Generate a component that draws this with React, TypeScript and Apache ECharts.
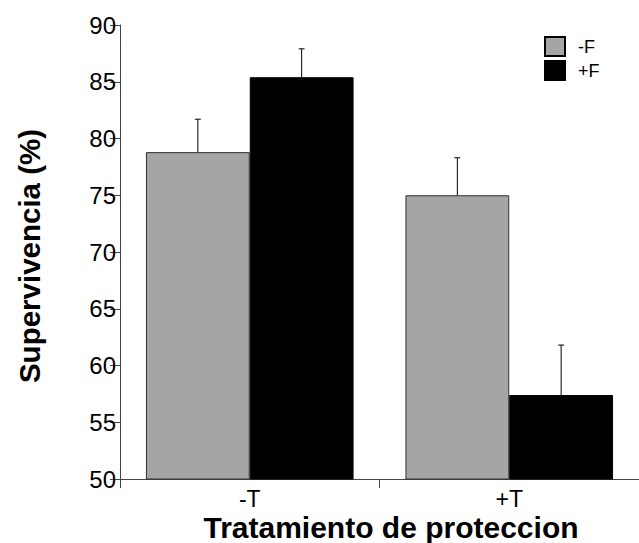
import React, { useEffect, useRef } from "react";
import * as echarts from "echarts";

const categories = ["-T", "+T"];
const seriesNames = ["-F", "+F"];
const minusF = [78.8, 75.0];
const plusF = [85.4, 57.4];
const minusFErr = [2.9, 3.3];
const plusFErr = [2.5, 4.4];
const yTicks = { min: 50, max: 90, interval: 5 };

const FONT = "'Liberation Sans', Arial, Helvetica, sans-serif";

export default function App() {
  const ref = useRef<HTMLDivElement>(null);
  useEffect(() => {
    if (!ref.current) return;
    const chart = echarts.init(ref.current, undefined, { renderer: "svg" });
    const errSeries = (vals: number[], errs: number[], side: number, name: string) => ({
      type: "custom",
      name: name + " err",
      silent: true,
      z: 5,
      data: vals.map((v, i) => [i, v, v + errs[i]]),
      renderItem: (params: any, api: any) => {
        const i = api.value(0);
        const base = api.coord([i, api.value(1)]);
        const top = api.coord([i, api.value(2)]);
        const band = api.size([1, 0])[0];
        const x = base[0] + side * band * 0.2;
        return {
          type: "group",
          children: [
            { type: "line", shape: { x1: x, y1: base[1], x2: x, y2: top[1] }, style: { stroke: "#000", lineWidth: 1 } },
            { type: "line", shape: { x1: x - 3, y1: top[1], x2: x + 3, y2: top[1] }, style: { stroke: "#000", lineWidth: 1 } },
          ],
        };
      },
    });
    chart.setOption({
      animation: false,
      textStyle: { fontFamily: FONT },
      grid: { left: 120, top: 25, width: 526, height: 454, containLabel: false },
      legend: {
        orient: "vertical",
        left: 539,
        top: 31,
        itemWidth: 20,
        itemHeight: 19,
        itemGap: 3,
        icon: "rect",
        textStyle: { fontSize: 18, color: "#000", fontFamily: FONT, padding: [0, 0, 0, 8] },
        data: [
          { name: "-F", itemStyle: { color: "#a5a5a5", borderColor: "#000", borderWidth: 2 } },
          { name: "+F", itemStyle: { color: "#000" } },
        ],
      },
      xAxis: {
        type: "category",
        data: categories,
        axisLine: { lineStyle: { color: "#444", width: 1 } },
        axisTick: { show: true, length: 9, lineStyle: { color: "#444" } },
        axisLabel: { fontSize: 23, color: "#000", margin: 8, lineHeight: 23, fontFamily: FONT },
      },
      yAxis: {
        type: "value",
        min: yTicks.min,
        max: yTicks.max,
        interval: yTicks.interval,
        splitLine: { show: false },
        axisLine: { show: true, lineStyle: { color: "#444", width: 1 } },
        axisTick: { show: true, length: 10, lineStyle: { color: "#444" } },
        axisLabel: { fontSize: 24, color: "#000", margin: 4, fontFamily: FONT },
      },
      graphic: [
        {
          type: "text",
          x: 391,
          y: 527,
          style: {
            text: "Tratamiento de proteccion",
            fontSize: 30,
            fontWeight: "bold",
            fontFamily: FONT,
            fill: "#000",
            align: "center",
            verticalAlign: "middle",
          },
        },
        {
          type: "text",
          x: 29,
          y: 256,
          rotation: Math.PI / 2,
          style: {
            text: "Supervivencia (%)",
            fontSize: 29.5,
            fontWeight: "bold",
            fontFamily: FONT,
            fill: "#000",
            align: "center",
            verticalAlign: "middle",
          },
        },
      ],
      series: [
        {
          name: seriesNames[0],
          type: "bar",
          data: minusF,
          barGap: "0%",
          barCategoryGap: "20%",
          itemStyle: { color: "#a5a5a5", borderColor: "#333", borderWidth: 1 },
        },
        {
          name: seriesNames[1],
          type: "bar",
          data: plusF,
          barGap: "0%",
          barCategoryGap: "20%",
          itemStyle: { color: "#000", borderColor: "#000", borderWidth: 1 },
        },
        errSeries(minusF, minusFErr, -1, seriesNames[0]),
        errSeries(plusF, plusFErr, 1, seriesNames[1]),
      ],
    });
    return () => chart.dispose();
  }, []);
  return (
    <div
      ref={ref}
      style={{ position: "absolute", left: 0, top: 0, width: 639, height: 543, background: "#fff" }}
    />
  );
}
